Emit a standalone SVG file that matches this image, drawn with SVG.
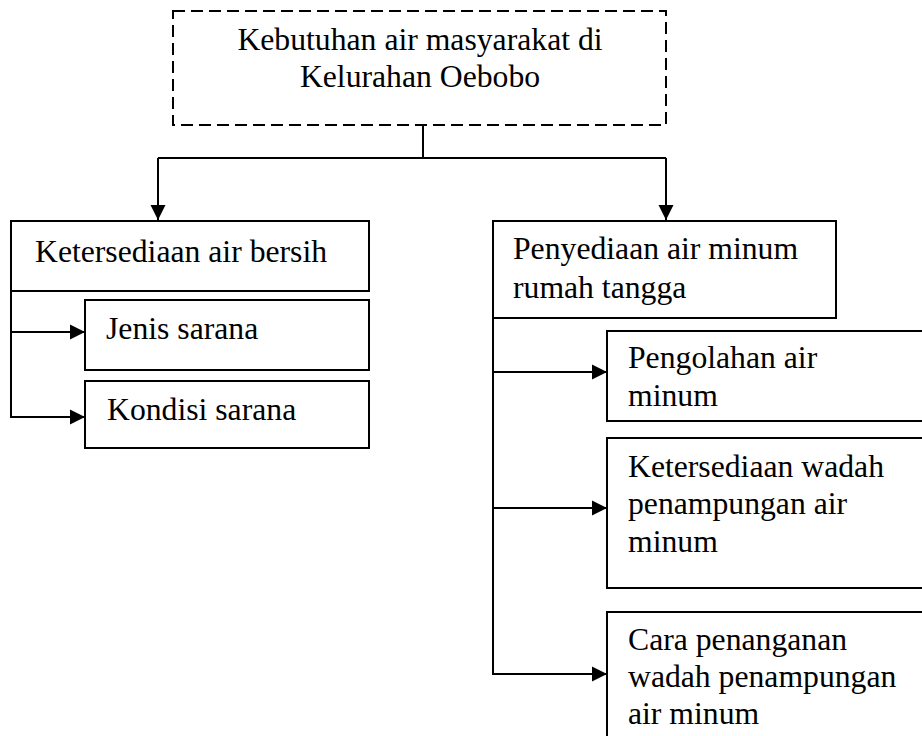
<svg xmlns="http://www.w3.org/2000/svg" width="922" height="736" viewBox="0 0 922 736">
<style>
.box{fill:#fff;stroke:#000;stroke-width:2}
.dash{fill:#fff;stroke:#000;stroke-width:2;stroke-dasharray:12 6}
.t{font-family:"Liberation Serif","Times New Roman",serif;font-size:31.7px;fill:#000}
.c{text-anchor:middle}
.ln{fill:none;stroke:#000;stroke-width:2}
</style>
<defs>
<marker id="ah" viewBox="0 0 15 16" refX="15" refY="8" markerWidth="15" markerHeight="16" markerUnits="userSpaceOnUse" orient="auto">
<path d="M0,0.5 L15,8 L0,15.5 Z" fill="#000"/>
</marker>
</defs>
<g id="connectors">
<path class="ln" d="M423,125 V158"/>
<path class="ln" d="M158,158 H666"/>
<path class="ln" d="M158,158 V220" marker-end="url(#ah)"/>
<path class="ln" d="M666,158 V220" marker-end="url(#ah)"/>
<path class="ln" d="M11,291 V417 H85" marker-end="url(#ah)"/>
<path class="ln" d="M11,332 H85" marker-end="url(#ah)"/>
<path class="ln" d="M493,318 V674 H607" marker-end="url(#ah)"/>
<path class="ln" d="M493,372 H607" marker-end="url(#ah)"/>
<path class="ln" d="M493,508 H607" marker-end="url(#ah)"/>
</g>
<g id="root">
<rect class="dash" x="173" y="11" width="493" height="114"/>
<text class="t c" x="420" y="50">Kebutuhan air masyarakat di</text>
<text class="t c" x="420" y="87">Kelurahan Oebobo</text>
</g>
<g id="ketersediaan">
<rect class="box" x="11" y="221" width="358" height="70"/>
<text class="t" x="35" y="262">Ketersediaan air bersih</text>
</g>
<g id="jenis">
<rect class="box" x="85" y="300" width="284" height="70"/>
<text class="t" x="106" y="339">Jenis sarana</text>
</g>
<g id="kondisi">
<rect class="box" x="85" y="381" width="284" height="67"/>
<text class="t" x="107" y="420">Kondisi sarana</text>
</g>
<g id="penyediaan">
<rect class="box" x="493" y="221" width="343" height="97"/>
<text class="t" x="513" y="259">Penyediaan air minum</text>
<text class="t" x="513" y="298">rumah tangga</text>
</g>
<g id="pengolahan">
<rect class="box" x="607" y="331" width="330" height="90"/>
<text class="t" x="628" y="368">Pengolahan air</text>
<text class="t" x="628" y="406">minum</text>
</g>
<g id="wadah">
<rect class="box" x="607" y="438" width="330" height="150"/>
<text class="t" x="628" y="477">Ketersediaan wadah</text>
<text class="t" x="628" y="514">penampungan air</text>
<text class="t" x="628" y="552">minum</text>
</g>
<g id="cara">
<rect class="box" x="607" y="612" width="330" height="140"/>
<text class="t" x="628" y="650">Cara penanganan</text>
<text class="t" x="628" y="687">wadah penampungan</text>
<text class="t" x="628" y="724">air minum</text>
</g>
</svg>
